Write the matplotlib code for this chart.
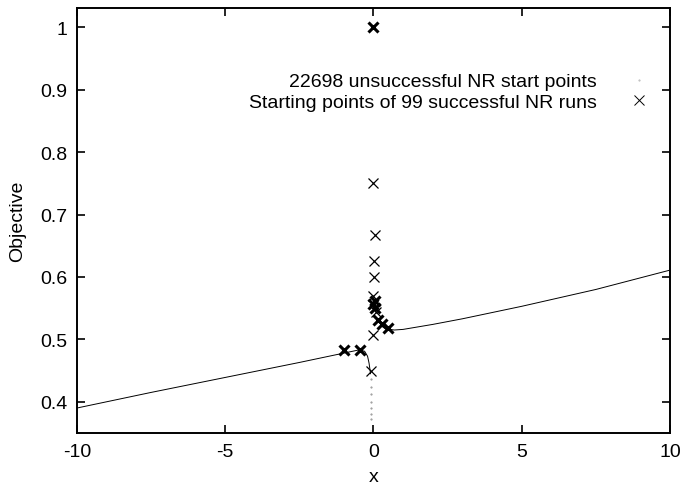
"""objective vs x for newton-raphson start points (gnuplot-style figure)"""
import matplotlib

matplotlib.use("Agg")
import matplotlib.pyplot as plt
import numpy as np

plt.rcParams["font.family"] = ["Liberation Sans", "DejaVu Sans"]
plt.rcParams["axes.unicode_minus"] = False

# unsuccessful start points trace a curve: left branch, right branch and a tail near x=0
fail_left_x = [-10, -7.5, -5, -2.5, -1, -0.5, -0.3, -0.2, -0.15, -0.12, -0.1]
fail_left_y = [0.390, 0.415, 0.439, 0.463, 0.478, 0.483, 0.481, 0.473, 0.462, 0.452, 0.445]
fail_tail_x = [-0.08, -0.08, -0.08, -0.08, -0.08, -0.08, -0.08]
fail_tail_y = [0.436, 0.424, 0.412, 0.400, 0.390, 0.380, 0.372]
fail_right_x = [0.25, 0.4, 0.7, 1.0, 2, 3, 5, 7.5, 10]
fail_right_y = [0.522, 0.517, 0.515, 0.516, 0.524, 0.533, 0.553, 0.580, 0.611]

# successful start points, with how many runs share each location
ok_x = [0.0, 0.0, 0.05, 0.02, 0.02, 0.0, 0.05, 0.0, 0.05, 0.1, 0.15, 0.3, 0.5, 0.0, -0.1, -1.0, -0.47]
ok_y = [1.0, 0.75, 0.667, 0.625, 0.6, 0.57, 0.562, 0.556, 0.55, 0.544, 0.531, 0.525, 0.518, 0.507, 0.45, 0.483, 0.483]
ok_count = [20, 2, 1, 1, 1, 1, 8, 8, 4, 3, 6, 10, 8, 1, 1, 12, 12]

n_fail = 22698
n_ok = 99

fig = plt.figure(figsize=(6.8, 4.85), dpi=100)
ax = fig.add_axes([0.1132, 0.1052, 0.8721, 0.8762])

ax.plot(fail_left_x, fail_left_y, color="black", lw=0.7)
ax.plot(fail_right_x, fail_right_y, color="black", lw=0.7)
ax.plot(fail_tail_x, fail_tail_y, ls="none", marker=".", ms=1.0, color="0.55")
ax.plot([], [], ls="none", marker=".", ms=1.0, color="0.7",
        label=f"{n_fail} unsuccessful NR start points")

for x, y, c in zip(ok_x, ok_y, ok_count):
    ax.plot(x, y, ls="none", marker="x", ms=7.5, mew=0.9 if c < 4 else 2.2, color="black")
ax.plot([], [], ls="none", marker="x", ms=7.5, mew=0.7, color="black",
        label=f"Starting points of {n_ok} successful NR runs")

ax.set_xlim(-10, 10)
ax.set_ylim(0.35, 1.031)
ax.set_xticks([-10, -5, 0, 5, 10])
ax.set_yticks([0.4, 0.5, 0.6, 0.7, 0.8, 0.9, 1.0])
ax.set_yticklabels(["0.4", "0.5", "0.6", "0.7", "0.8", "0.9", "1"])
ax.tick_params(direction="in", length=6, width=1.2, top=True, right=True, labelsize=14, pad=7)
for s in ax.spines.values():
    s.set_linewidth(1.4)
ax.set_xlabel("x", fontsize=14, labelpad=6)
ax.set_ylabel("Objective", fontsize=14, labelpad=10)

leg = ax.legend(loc="upper right", bbox_to_anchor=(0.985, 0.866), frameon=False, fontsize=14,
                markerfirst=False, handletextpad=1.4, labelspacing=0.15, borderaxespad=0.0,
                handlelength=1.5)
for t in leg.get_texts():
    t.set_ha("right")
leg._legend_box.align = "right"

fig.savefig("out.png", dpi=100)
